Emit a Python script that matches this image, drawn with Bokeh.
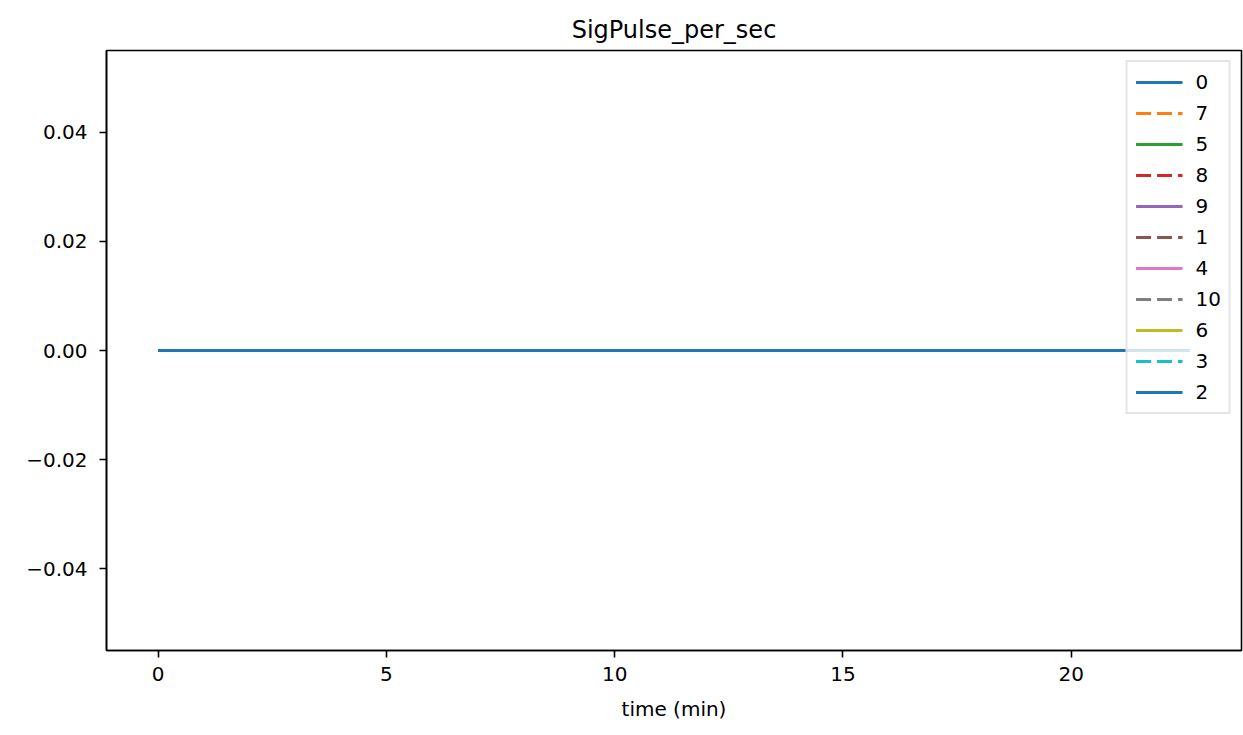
from bokeh.plotting import figure
from bokeh.models import Range1d, FixedTicker, Legend, LegendItem
from bokeh.embed import file_html
from bokeh.resources import INLINE

# Data
time_min = [0.0, 2.5, 5.0, 7.5, 10.0, 12.5, 15.0, 17.5, 20.0, 22.6]
series_names = ["0", "7", "5", "8", "9", "1", "4", "10", "6", "3", "2"]
series_values = {name: [0.0] * len(time_min) for name in series_names}
series_colors = ["#1f77b4", "#ff7f0e", "#2ca02c", "#d62728", "#9467bd", "#8c564b",
                 "#e377c2", "#7f7f7f", "#bcbd22", "#17becf", "#1f77b4"]
series_dashed = [False, True, False, True, False, True, False, True, False, True, False]
y_ticks = [-0.04, -0.02, 0.0, 0.02, 0.04]
y_tick_labels = ["\u22120.04", "\u22120.02", "0.00", "0.02", "0.04"]
x_ticks = [0, 5, 10, 15, 20]

FONT = "DejaVu Sans"

p = figure(width=1243, height=735, output_backend="svg", toolbar_location=None,
           x_range=Range1d(-1.13, 23.73), y_range=Range1d(-0.055, 0.055),
           min_border_left=106, min_border_right=2, min_border_top=50, min_border_bottom=85,
           title="SigPulse_per_sec")
p.title.align = "center"
p.title.text_font = FONT
p.title.text_font_size = "24px"
p.title.text_font_style = "normal"
p.title.text_color = "black"
p.title.standoff = 14

p.xgrid.visible = False
p.ygrid.visible = False
p.outline_line_color = "black"
p.outline_line_width = 1.6
p.outline_line_alpha = 1.0

for ax in (p.xaxis[0], p.yaxis[0]):
    ax.major_label_text_font = FONT
    ax.major_label_text_font_size = "20px"
    ax.major_label_text_color = "black"
    ax.major_tick_out = 7
    ax.major_tick_in = 0
    ax.minor_tick_out = 0
    ax.minor_tick_in = 0
    ax.axis_line_color = "black"
    ax.axis_line_width = 1.6
    ax.major_tick_line_width = 1.6
    ax.major_tick_line_color = "black"

p.yaxis.major_label_standoff = 12
p.xaxis.major_label_standoff = 9
p.xaxis.ticker = FixedTicker(ticks=x_ticks)
p.yaxis.ticker = FixedTicker(ticks=y_ticks)
p.yaxis.major_label_overrides = {t: l for t, l in zip(y_ticks, y_tick_labels)}
p.xaxis.axis_label = "time (min)"
p.xaxis.axis_label_text_font = FONT
p.xaxis.axis_label_text_font_size = "20px"
p.xaxis.axis_label_text_font_style = "normal"
p.xaxis.axis_label_text_color = "black"
p.xaxis.axis_label_standoff = 13

items = []
for name, color, dashed in zip(series_names, series_colors, series_dashed):
    r = p.line(time_min, series_values[name], line_color=color, line_width=3,
               line_dash="15 6" if dashed else "solid")
    items.append(LegendItem(label=name, renderers=[r]))

legend = Legend(items=items, location="top_right")
legend.label_text_font = FONT
legend.label_text_font_size = "20px"
legend.label_text_color = "black"
legend.glyph_width = 47
legend.glyph_height = 20
legend.label_height = 20
legend.spacing = 7
legend.padding = 8
legend.margin = 10
legend.label_standoff = 13
legend.border_line_color = "#cccccc"
legend.border_line_width = 2
legend.background_fill_alpha = 0.8
p.add_layout(legend)

open("out.html", "w").write(file_html(p, INLINE))
